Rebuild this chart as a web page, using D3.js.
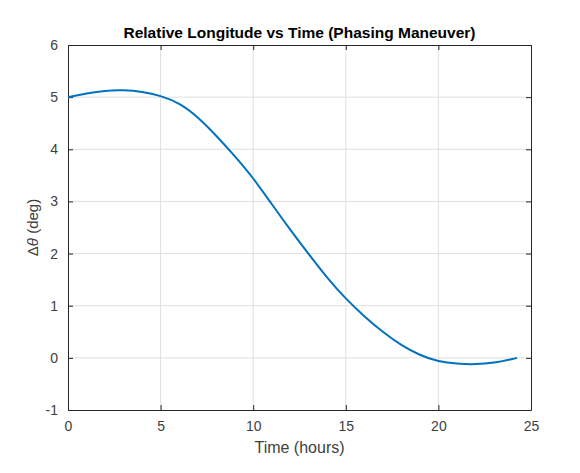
<!DOCTYPE html>
<html>
<head>
<meta charset="utf-8">
<script src="https://cdn.jsdelivr.net/npm/d3@7"></script>
<style>
  body { margin: 0; background: #fff; }
  svg { display: block; font-family: "Liberation Sans", Arial, sans-serif; }
</style>
</head>
<body>
<svg id="drawing_region"></svg>
<script>
// values
const hours = [0, 1, 2, 3, 4, 5, 6, 7, 8, 9, 10, 11, 12, 13, 14, 15, 16, 17, 18, 19, 20, 21, 22, 23, 24, 24.25];
const dTheta = [5.00, 5.07, 5.12, 5.13, 5.10, 5.02, 4.87, 4.61, 4.26, 3.87, 3.44, 2.95, 2.46, 1.99, 1.54, 1.14, 0.80, 0.50, 0.25, 0.06, -0.06, -0.11, -0.12, -0.09, -0.02, 0.00];
const xTicks = [0, 5, 10, 15, 20, 25];
const yTicks = [-1, 0, 1, 2, 3, 4, 5, 6];

const config = {
    width: 580,
    height: 473,
    margin: {top: 45, right: 49, bottom: 63, left: 68}
};

const svg = d3.select('#drawing_region')
    .attr('width', config.width)
    .attr('height', config.height);

const inner_width = config.width - config.margin.left - config.margin.right;
const inner_height = config.height - config.margin.top - config.margin.bottom;

const chart = svg.append('g')
    .attr('transform', `translate(${config.margin.left}, ${config.margin.top})`);

const xscale = d3.scaleLinear().domain([0, 25]).range([0, inner_width]);
const yscale = d3.scaleLinear().domain([-1, 6]).range([inner_height, 0]);

const axisColor = '#262626';
const labelColor = '#404040';

// grid
chart.append('g').selectAll('line')
    .data(xTicks.slice(1, -1))
    .join('line')
    .attr('x1', d => xscale(d)).attr('x2', d => xscale(d))
    .attr('y1', 0).attr('y2', inner_height)
    .attr('stroke', '#dfdfdf').attr('stroke-width', 1);

chart.append('g').selectAll('line')
    .data(yTicks.slice(1, -1))
    .join('line')
    .attr('x1', 0).attr('x2', inner_width)
    .attr('y1', d => yscale(d)).attr('y2', d => yscale(d))
    .attr('stroke', '#dfdfdf').attr('stroke-width', 1);

// axes (ticks pointing inward, MATLAB style)
const fmt = d => String(d);
const xaxis = d3.axisBottom(xscale).tickValues(xTicks).tickSizeInner(-5).tickSizeOuter(0).tickPadding(11).tickFormat(fmt);
const yaxis = d3.axisLeft(yscale).tickValues(yTicks).tickSizeInner(-5).tickSizeOuter(0).tickPadding(10).tickFormat(fmt);
const xaxisTop = d3.axisTop(xscale).tickValues(xTicks).tickSizeInner(-5).tickSizeOuter(0).tickFormat('');
const yaxisRight = d3.axisRight(yscale).tickValues(yTicks).tickSizeInner(-5).tickSizeOuter(0).tickFormat('');

chart.append('g').attr('transform', `translate(0, ${inner_height})`).call(xaxis);
chart.append('g').call(yaxis);
chart.append('g').call(xaxisTop);
chart.append('g').attr('transform', `translate(${inner_width}, 0)`).call(yaxisRight);

chart.selectAll('.domain').attr('stroke', axisColor);
chart.selectAll('.tick line').attr('stroke', axisColor);
chart.selectAll('.tick text')
    .attr('fill', labelColor)
    .style('font-size', '14px')
    .style('font-family', '"Liberation Sans", Arial, sans-serif');

// line
const line = d3.line()
    .x((d, i) => xscale(hours[i]))
    .y(d => yscale(d))
    .curve(d3.curveNatural);

chart.append('path')
    .datum(dTheta)
    .attr('d', line)
    .attr('fill', 'none')
    .attr('stroke', '#0072BD')
    .attr('stroke-width', 2);

// title and labels
svg.append('text')
    .attr('x', config.margin.left + inner_width / 2)
    .attr('y', 38)
    .attr('text-anchor', 'middle')
    .attr('fill', '#000')
    .style('font-size', '15.5px')
    .style('font-weight', 'bold')
    .text('Relative Longitude vs Time (Phasing Maneuver)');

svg.append('text')
    .attr('x', config.margin.left + inner_width / 2)
    .attr('y', 453)
    .attr('text-anchor', 'middle')
    .attr('fill', labelColor)
    .style('font-size', '16px')
    .text('Time (hours)');

const ylab = svg.append('text')
    .attr('transform', `translate(38, ${config.margin.top + inner_height / 2}) rotate(-90)`)
    .attr('text-anchor', 'middle')
    .attr('fill', labelColor)
    .style('font-size', '15px');
ylab.append('tspan').text('\u0394');
ylab.append('tspan').style('font-style', 'italic').text('\u03B8');
ylab.append('tspan').text(' (deg)');
</script>
</body>
</html>
